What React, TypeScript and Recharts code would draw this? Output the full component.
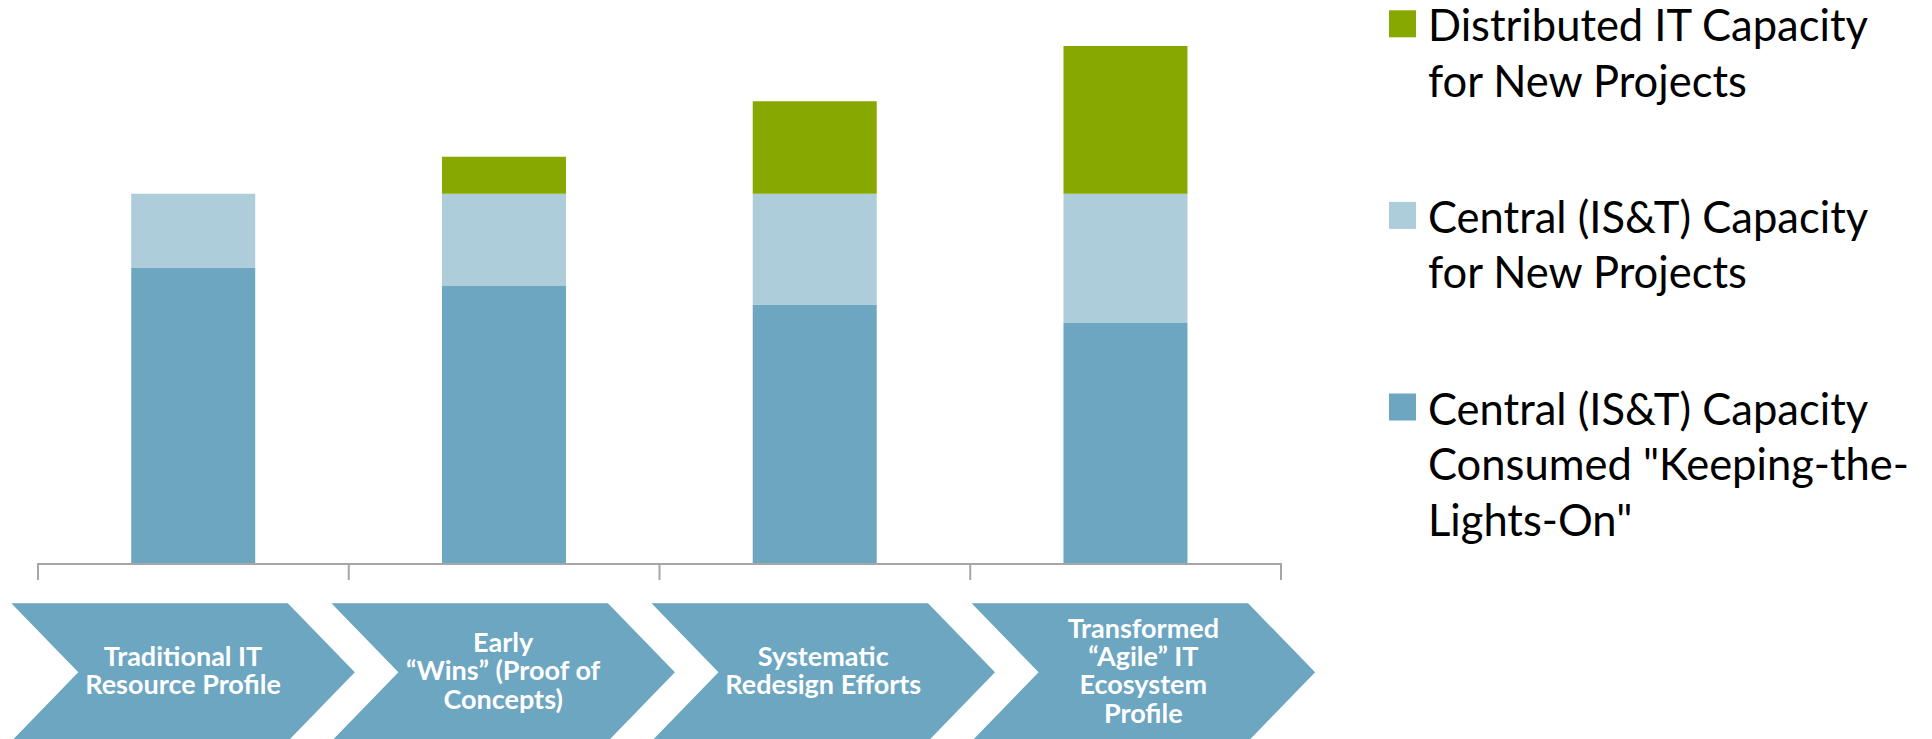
import React from 'react';
import { BarChart, Bar, XAxis, YAxis, Legend } from 'recharts';

// ---- data ----
const stages = [
  'Traditional IT\nResource Profile',
  'Early\n\u201cWins\u201d (Proof of\nConcepts)',
  'Systematic\nRedesign Efforts',
  'Transformed\n\u201cAgile\u201d IT\nEcosystem\nProfile',
];
const keepingLightsOn = [80, 75, 70, 65];
const centralNewProjects = [20, 25, 30, 35];
const distributedNewProjects = [0, 10, 25, 40];

const seriesNames = {
  klo: 'Central (IS&T) Capacity\nConsumed "Keeping-the-\nLights-On"',
  central: 'Central (IS&T) Capacity\nfor New Projects',
  distributed: 'Distributed IT Capacity\nfor New Projects',
};

const data = stages.map((stage, i) => ({
  stage,
  klo: keepingLightsOn[i],
  central: centralNewProjects[i],
  distributed: distributedNewProjects[i],
}));

// ---- styles ----
const DARK = '#6CA6C1';
const LIGHT = '#ADCDDA';
const GREEN = '#86A800';
const AXIS = '#A6A6A6';
const BAR_PAD = { left: 15, right: 22.4 };

const CHEVRON_OFFSET = 20.1;

// Category axis under the bars: draws the axis line across each band and
// tick marks at the band boundaries (band half-width comes from the scale).
const BoundaryTick = (props: any) => {
  const { x, y, payload, index, visibleTicksCount } = props;
  const half = payload && payload.offset ? payload.offset : 0;
  const ly = y + 0.8;
  const left = x - half;
  const right = x + half;
  return (
    <g>
      <line x1={left} x2={right} y1={ly} y2={ly} stroke={AXIS} strokeWidth={2} />
      <line x1={left} x2={left} y1={ly - 1} y2={ly + 16} stroke={AXIS} strokeWidth={2} />
      {index === visibleTicksCount - 1 ? (
        <line x1={right} x2={right} y1={ly - 1} y2={ly + 16} stroke={AXIS} strokeWidth={2} />
      ) : null}
    </g>
  );
};

const ChevronTick = (props: any) => {
  const { x, y, payload } = props;
  const top = y + CHEVRON_OFFSET;
  const half = 69;
  const w = 343.5;
  const slant = 67;
  const l = x - w / 2;
  const r = x + w / 2;
  const pts = [
    [l, top],
    [r - slant, top],
    [r, top + half],
    [r - slant, top + half * 2],
    [l, top + half * 2],
    [l + slant, top + half],
  ]
    .map((p) => p.join(','))
    .join(' ');
  const lines = String(payload.value).split('\n');
  const n = lines.length;
  const lh = 28.3;
  const mid = top + half;
  return (
    <g>
      <polygon points={pts} fill={DARK} />
      <text
        textAnchor="middle"
        fill="#FFFFFF"
        fontFamily="Lato, 'Open Sans', sans-serif"
        fontWeight={700}
        fontSize={27}
      >
        {lines.map((ln, i) => (
          <tspan key={i} x={x} y={mid + (i - (n - 1) / 2) * lh + 8}>
            {ln}
          </tspan>
        ))}
      </text>
    </g>
  );
};

const LegendContent = (props: any) => {
  const payload = [...(props.payload || [])].reverse();
  return (
    <svg width={543} height={600} style={{ display: 'block' }}>
      {payload.map((entry: any, i: number) => {
        const lines = String(entry.value).split('\n');
        const base = 41.3 + i * 191.6;
        return (
          <g key={i}>
            <rect x={0} y={base - 31} width={27} height={27} fill={entry.color} />
            <text fontFamily="Lato, 'Open Sans', sans-serif" fontSize={43.5} fill="#000000">
              {lines.map((ln, j) => (
                <tspan key={j} x={39} y={base + j * 55.5}>
                  {ln}
                </tspan>
              ))}
            </text>
          </g>
        );
      })}
    </svg>
  );
};

export default function App() {
  return (
    <div style={{ position: 'absolute', left: 0, top: 0, width: 1932, height: 739, background: '#fff' }}>
      <BarChart
        width={1932}
        height={739}
        data={data}
        margin={{ top: 45.9, right: 628.6, left: 23, bottom: 0 }}
        barCategoryGap="30%"
      >
        <YAxis hide domain={[0, 140]} type="number" />
        <XAxis
          xAxisId="bars"
          dataKey="stage"
          padding={BAR_PAD}
          axisLine={false}
          tickLine={false}
          tickSize={0}
          tickMargin={0}
          tick={BoundaryTick}
          height={20}
          interval={0}
        />
        <XAxis
          xAxisId="chev"
          dataKey="stage"
          axisLine={false}
          tickLine={false}
          tickSize={0}
          tickMargin={0}
          tick={ChevronTick}
          height={155.8}
          interval={0}
        />
        <Bar xAxisId="bars" dataKey="klo" name={seriesNames.klo} stackId="a" fill={DARK} isAnimationActive={false} />
        <Bar xAxisId="bars" dataKey="central" name={seriesNames.central} stackId="a" fill={LIGHT} isAnimationActive={false} />
        <Bar xAxisId="bars" dataKey="distributed" name={seriesNames.distributed} stackId="a" fill={GREEN} isAnimationActive={false} />
        <Legend
          layout="vertical"
          align="center"
          verticalAlign="middle"
          wrapperStyle={{ left: 1389, top: 0, width: 543, height: 600 }}
          content={LegendContent}
        />
      </BarChart>
    </div>
  );
}
